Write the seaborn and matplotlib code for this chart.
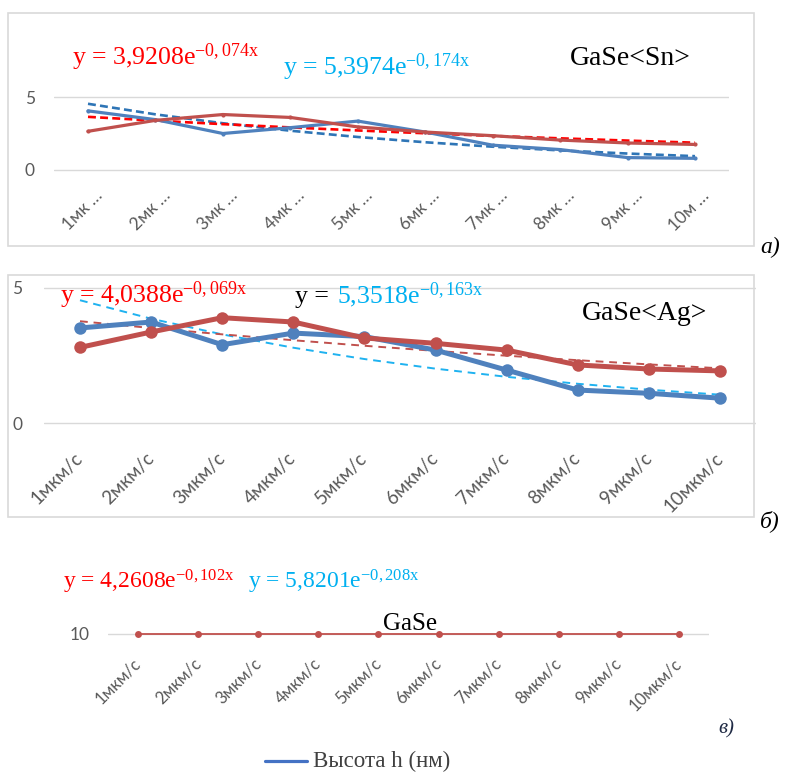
import numpy as np
import pandas as pd
import matplotlib
matplotlib.use("Agg")
import matplotlib.pyplot as plt
import seaborn as sns
from matplotlib.patches import Rectangle
from matplotlib.lines import Line2D
from matplotlib.transforms import ScaledTranslation

speeds = [1, 2, 3, 4, 5, 6, 7, 8, 9, 10]
labels_short = ['1мк …', '2мк …', '3мк …', '4мк …', '5мк …',
                '6мк …', '7мк …', '8мк …', '9мк …', '10м …']
labels_full = ['1мкм/с', '2мкм/с', '3мкм/с', '4мкм/с', '5мкм/с',
               '6мкм/с', '7мкм/с', '8мкм/с', '9мкм/с', '10мкм/с']

# GaSe<Sn>
sn_blue = [4.05, 3.45, 2.5, 2.9, 3.35, 2.6, 1.7, 1.4, 0.85, 0.8]
sn_red = [2.65, 3.4, 3.8, 3.6, 2.95, 2.6, 2.35, 2.05, 1.85, 1.75]
sn_fit_red = (3.9208, -0.074)
sn_fit_blue = (5.3974, -0.174)

# GaSe<Ag>
ag_blue = [3.52, 3.74, 2.9, 3.33, 3.2, 2.7, 1.96, 1.22, 1.1, 0.92]
ag_red = [2.8, 3.37, 3.9, 3.74, 3.15, 2.95, 2.7, 2.15, 2.0, 1.93]
ag_fit_red = (4.0388, -0.069)
ag_fit_blue = (5.3518, -0.163)

# GaSe
gase = [10, 10, 10, 10, 10, 10, 10, 10, 10, 10]

BLUE = '#4F81BD'
RED = '#C0504D'
GRID = '#D9D9D9'
TICK = '#595959'

sns.set_theme(style='white')
plt.rcParams['font.family'] = ['Lato', 'DejaVu Sans']
plt.rcParams['mathtext.fontset'] = 'custom'
plt.rcParams['mathtext.rm'] = 'Liberation Serif'
plt.rcParams['mathtext.it'] = 'Liberation Serif:italic'
plt.rcParams['mathtext.bf'] = 'Liberation Serif:bold'

W, H = 796, 774
fig = plt.figure(figsize=(W / 100, H / 100), dpi=100)
fig.patch.set_facecolor('white')


def fx(x):
    return x / W


def fy(y):
    return 1 - y / H


def panel(x1, x10, y_top, y_bot, v_top, v_bot, ylim):
    step = (x10 - x1) / 9
    left = x1 - 0.5 * step
    right = x10 + 0.5 * step
    ppu = (y_bot - y_top) / (v_top - v_bot)
    top = y_top - (ylim[1] - v_top) * ppu
    bottom = y_bot + (v_bot - ylim[0]) * ppu
    ax = fig.add_axes([fx(left), fy(bottom), (right - left) / W, (bottom - top) / H])
    ax.set_xlim(0.5, 10.5)
    ax.set_ylim(*ylim)
    ax.set_facecolor('none')
    for s in ax.spines.values():
        s.set_visible(False)
    return ax


def finish(ax, yticks, pad, base, labels, dx, dy, size):
    ax.set_xlabel('')
    ax.set_ylabel('')
    ax.set_xticks([])
    ax.set_yticks(yticks)
    ax.set_yticklabels([str(t) for t in yticks])
    ax.tick_params(axis='y', length=0, pad=pad, labelsize=12.5, labelcolor=TICK)
    ax.grid(axis='y', color=GRID, lw=1)
    ax.grid(axis='x', visible=False)
    ax.set_axisbelow(True)
    off = ScaledTranslation(dx / 100, -dy / 100, fig.dpi_scale_trans)
    for x, t in zip(speeds, labels):
        ax.text(x, base, t, rotation=45, ha='right', va='center',
                rotation_mode='anchor', fontsize=size, color=TICK,
                transform=ax.transData + off)


def line(ax, values, color, lw, ls='-', marker=None, ms=0):
    d = pd.DataFrame({'speed': speeds, 'v': values})
    sns.lineplot(data=d, x='speed', y='v', ax=ax, color=color, lw=lw,
                 linestyle=ls, marker=marker, markersize=ms,
                 markeredgewidth=0, clip_on=False)


def trend(ax, coef, color, lw, dashes):
    x = np.array(speeds, dtype=float)
    d = pd.DataFrame({'speed': x, 'v': coef[0] * np.exp(coef[1] * x)})
    sns.lineplot(data=d, x='speed', y='v', ax=ax, color=color, lw=lw,
                 dashes=False, clip_on=False).lines[-1].set_dashes(dashes)


# panel borders
for (x0, y0, x1, y1) in [(8, 13, 754, 246), (8, 275, 754, 517)]:
    fig.add_artist(Rectangle((fx(x0), fy(y1)), (x1 - x0) / W, (y1 - y0) / H,
                             transform=fig.transFigure, fill=False,
                             ec=GRID, lw=1.2))

# ---- a) GaSe<Sn>
ax = panel(88, 695, 97, 170, 5, 0, (-0.3, 5.3))
trend(ax, sn_fit_blue, '#2E75B6', 1.9, (3, 1.6))
trend(ax, sn_fit_red, '#FF0000', 1.9, (3, 1.6))
line(ax, sn_blue, BLUE, 2.3, marker='o', ms=3)
line(ax, sn_red, RED, 2.3, marker='o', ms=3)
finish(ax, [0, 5], 14, 0, labels_short, 12, 23, 12.5)

fig.text(fx(72), fy(65), r'y = 3,9208e$^{\mathrm{-0,074x}}$', color='#FF0000',
         fontsize=18.5, family='Liberation Serif', va='baseline')
fig.text(fx(283), fy(75), r'y = 5,3974e$^{\mathrm{-0,174x}}$', color='#00B0F0',
         fontsize=18.5, family='Liberation Serif', va='baseline')
fig.text(fx(570), fy(65), 'GaSe<Sn>', color='black', fontsize=20,
         family='Liberation Serif', va='baseline')
fig.text(fx(760), fy(253), 'а)', color='black', fontsize=17,
         family='Liberation Serif', style='italic', va='baseline')

# ---- b) GaSe<Ag>
ax = panel(80, 720, 288, 423, 5, 0, (-0.3, 5.3))
trend(ax, ag_fit_blue, '#1FB2F0', 1.4, (4, 3))
trend(ax, ag_fit_red, RED, 1.4, (4, 3))
line(ax, ag_blue, BLUE, 3.6, marker='o', ms=9)
line(ax, ag_red, RED, 3.6, marker='o', ms=9)
finish(ax, [0, 5], 16, 0, labels_full, 0, 33, 13.5)

fig.text(fx(60), fy(303), r'y = 4,0388e$^{\mathrm{-0,069x}}$', color='#FF0000',
         fontsize=18.5, family='Liberation Serif', va='baseline')
fig.text(fx(295), fy(303), 'y = ', color='black', fontsize=18.5,
         family='Liberation Serif', va='baseline')
fig.text(fx(337), fy(303), r'5,3518e$^{\mathrm{-0,163x}}$', color='#00B0F0',
         fontsize=18.5, family='Liberation Serif', va='baseline')
fig.text(fx(582), fy(320), 'GaSe<Ag>', color='black', fontsize=20,
         family='Liberation Serif', va='baseline')
fig.text(fx(760), fy(527), 'б)', color='black', fontsize=17,
         family='Liberation Serif', style='italic', va='baseline')

# ---- в) GaSe
ax = panel(138, 679, 614, 654, 11, 9, (9, 11))
line(ax, gase, RED, 1.3, marker='o', ms=5)
finish(ax, [10], 13, 10, labels_full, 0, 27, 12)

fig.text(fx(63), fy(588), r'y = 4,2608e$^{\mathrm{-0,102x}}$', color='#FF0000',
         fontsize=17, family='Liberation Serif', va='baseline')
fig.text(fx(248), fy(588), r'y = 5,8201e$^{\mathrm{-0,208x}}$', color='#00B0F0',
         fontsize=17, family='Liberation Serif', va='baseline')
fig.text(fx(383), fy(630), 'GaSe', color='black', fontsize=18,
         family='Liberation Serif', va='baseline')
fig.text(fx(718), fy(733), 'в)', color='#1F2A44', fontsize=15,
         family='Liberation Serif', style='italic', va='baseline')

# legend
fig.add_artist(Line2D([fx(265), fx(307)], [fy(761), fy(761)], color='#4472C4',
                      lw=2.3, transform=fig.transFigure))
fig.text(fx(313), fy(767), 'Высота h (нм)', color='#404040', fontsize=16.5,
         family='Liberation Serif', va='baseline')

fig.savefig('out.png', dpi=100)
